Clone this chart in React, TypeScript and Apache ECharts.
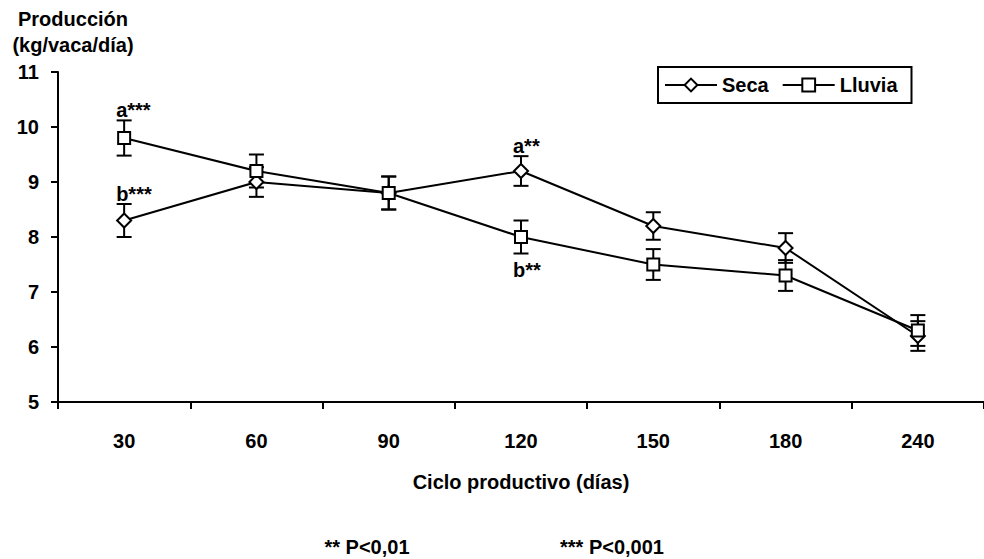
import React, { useEffect, useRef } from 'react';
import * as echarts from 'echarts';

const categories = ['30', '60', '90', '120', '150', '180', '240'];
const secaValues = [8.3, 9.0, 8.8, 9.2, 8.2, 7.8, 6.2];
const secaErrors = [0.3, 0.27, 0.3, 0.27, 0.25, 0.27, 0.27];
const lluviaValues = [9.8, 9.2, 8.8, 8.0, 7.5, 7.3, 6.3];
const lluviaErrors = [0.32, 0.3, 0.3, 0.3, 0.28, 0.28, 0.28];
const yMin = 5;
const yMax = 11;
const yInterval = 1;

const annotations = [
  { series: 'Lluvia', index: 0, text: 'a***', side: 'top' },
  { series: 'Seca', index: 0, text: 'b***', side: 'top' },
  { series: 'Seca', index: 3, text: 'a**', side: 'top' },
  { series: 'Lluvia', index: 3, text: 'b**', side: 'bottom' },
];

const titleLines = ['Producción', '(kg/vaca/día)'];
const xAxisName = 'Ciclo productivo (días)';
const footnotes = ['** P<0,01', '*** P<0,001'];

const FONT = '"Liberation Sans", Arial, Helvetica, sans-serif';

function errorSeries(name: string, values: number[], errors: number[]) {
  return {
    type: 'custom',
    name: name + '-err',
    z: 1,
    silent: true,
    data: values.map((v, i) => [i, v - errors[i], v + errors[i]]),
    encode: { x: 0, y: [1, 2] },
    renderItem: (params: any, api: any) => {
      const x = api.value(0);
      const lo = api.coord([x, api.value(1)]);
      const hi = api.coord([x, api.value(2)]);
      const cap = 7.5;
      const style = { stroke: '#000', lineWidth: 2, fill: 'none' };
      return {
        type: 'group',
        children: [
          { type: 'line', shape: { x1: lo[0], y1: lo[1], x2: hi[0], y2: hi[1] }, style },
          { type: 'line', shape: { x1: lo[0] - cap, y1: lo[1], x2: lo[0] + cap, y2: lo[1] }, style },
          { type: 'line', shape: { x1: hi[0] - cap, y1: hi[1], x2: hi[0] + cap, y2: hi[1] }, style },
        ],
      };
    },
  };
}

function annotationAnchor(a: { series: string; index: number; side: string }) {
  const vals = a.series === 'Seca' ? secaValues : lluviaValues;
  const errs = a.series === 'Seca' ? secaErrors : lluviaErrors;
  const v = vals[a.index];
  const e = errs[a.index];
  return a.side === 'top' ? v + e : v - e;
}

export default function App() {
  const ref = useRef<HTMLDivElement>(null);
  useEffect(() => {
    if (!ref.current) return;
    const chart = echarts.init(ref.current, undefined, { renderer: 'svg' });
    const lineCommon = {
      type: 'line',
      z: 3,
      lineStyle: { color: '#000', width: 2 },
      itemStyle: { color: '#fff', borderColor: '#000', borderWidth: 2 },
      showAllSymbol: true,
    };
    chart.setOption({
      animation: false,
      backgroundColor: '#fff',
      textStyle: { fontFamily: FONT },
      grid: { left: 58, right: -5, top: 72, bottom: 157, containLabel: false },
      legend: {
        data: ['Seca', 'Lluvia'],
        left: 658,
        top: 67,
        orient: 'horizontal',
        itemWidth: 52,
        itemHeight: 16,
        itemGap: 13,
        padding: [8, 14, 8, 6],
        borderColor: '#000',
        borderWidth: 2,
        backgroundColor: '#fff',
        textStyle: { fontSize: 20, fontWeight: 'bold', color: '#000', fontFamily: FONT },
      },
      xAxis: {
        type: 'category',
        data: categories,
        boundaryGap: true,
        name: xAxisName,
        nameLocation: 'middle',
        nameGap: 70,
        nameTextStyle: { fontSize: 20, fontWeight: 'bold', color: '#000', fontFamily: FONT },
        axisLine: { show: true, lineStyle: { color: '#000', width: 2 } },
        axisTick: { show: true, inside: false, length: 7, alignWithLabel: false, lineStyle: { color: '#000', width: 2 } },
        axisLabel: { fontSize: 20, fontWeight: 'bold', color: '#000', margin: 29, fontFamily: FONT },
        splitLine: { show: false },
      },
      yAxis: {
        type: 'value',
        min: yMin,
        max: yMax,
        interval: yInterval,
        axisLine: { show: true, lineStyle: { color: '#000', width: 2 } },
        axisTick: { show: true, inside: false, length: 7, lineStyle: { color: '#000', width: 2 } },
        axisLabel: { fontSize: 20, fontWeight: 'bold', color: '#000', margin: 19, fontFamily: FONT },
        splitLine: { show: false },
      },
      graphic: [
        {
          type: 'text',
          x: 73,
          y: 19,
          style: { text: titleLines[0], font: `bold 20px ${FONT}`, fill: '#000', align: 'center', verticalAlign: 'middle' },
        },
        {
          type: 'text',
          x: 73,
          y: 45,
          style: { text: titleLines[1], font: `bold 20px ${FONT}`, fill: '#000', align: 'center', verticalAlign: 'middle' },
        },
        {
          type: 'text',
          x: 367,
          y: 547,
          style: { text: footnotes[0], font: `bold 20px ${FONT}`, fill: '#000', align: 'center', verticalAlign: 'middle' },
        },
        {
          type: 'text',
          x: 612,
          y: 547,
          style: { text: footnotes[1], font: `bold 20px ${FONT}`, fill: '#000', align: 'center', verticalAlign: 'middle' },
        },
      ],
      series: [
        errorSeries('Seca', secaValues, secaErrors),
        errorSeries('Lluvia', lluviaValues, lluviaErrors),
        { ...lineCommon, name: 'Seca', data: secaValues, symbol: 'diamond', symbolSize: 14 },
        { ...lineCommon, name: 'Lluvia', data: lluviaValues, symbol: 'rect', symbolSize: 12 },
        {
          type: 'custom',
          name: 'annotations',
          z: 4,
          silent: true,
          data: annotations.map((a) => [a.index, annotationAnchor(a)]),
          encode: { x: 0, y: 1 },
          renderItem: (params: any, api: any) => {
            const a = annotations[params.dataIndex];
            const pt = api.coord([api.value(0), api.value(1)]);
            const top = a.side === 'top';
            return {
              type: 'text',
              x: pt[0] - 8,
              y: top ? pt[1] : pt[1] + 6,
              style: {
                text: a.text,
                font: `bold 20px ${FONT}`,
                fill: '#000',
                align: 'left',
                verticalAlign: top ? 'bottom' : 'top',
              },
            };
          },
        },
      ],
    });
    return () => chart.dispose();
  }, []);
  return (
    <div
      ref={ref}
      style={{ position: 'fixed', left: 0, top: 0, width: 984, height: 559, background: '#fff' }}
    />
  );
}
